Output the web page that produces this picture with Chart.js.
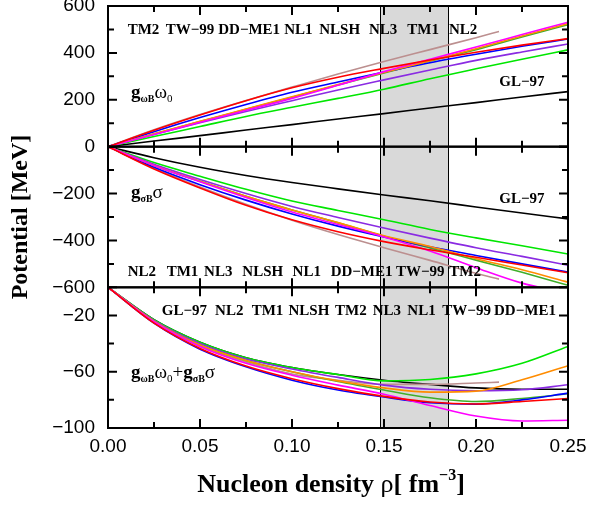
<!DOCTYPE html>
<html>
<head>
<meta charset="utf-8">
<script src="https://cdn.jsdelivr.net/npm/chart.js@4.4.1/dist/chart.umd.min.js"></script>
<style>
  html, body { margin: 0; padding: 0; background: #fff; }
  #wrap { width: 589px; height: 506px; position: relative; }
</style>
</head>
<body>
<div id="wrap"><canvas id="chart"></canvas></div>
<script>
// density grid (fm^-3)
const rho = [0, 0.025, 0.05, 0.075, 0.1, 0.125, 0.15, 0.175, 0.2, 0.225, 0.25];
const rhoShort = [0, 0.025, 0.05, 0.075, 0.1, 0.125, 0.15, 0.175, 0.2, 0.2125];

// upper panel: g_wB w0
const vecRed     = [0, 70, 135, 196, 251, 296, 334, 370, 403, 433, 461];
const vecMagenta = [0, 52, 104, 155, 206, 262, 320, 373, 425, 478, 531];
const vecOrange  = [0, 55, 108, 161, 213, 265, 316, 367, 418, 472, 525];
const vecBlue    = [0, 64, 124, 180, 232, 276, 318, 358, 394, 428, 459];
const vecGreen2  = [0, 54, 107, 159, 211, 263, 314, 365, 414, 468, 520];
const vecPurple  = [0, 52, 102, 150, 196, 242, 285, 327, 368, 404, 438];
const vecBrown   = [0, 72, 137, 197, 254, 310, 363, 414, 465, 491];
const vecGreen   = [0, 43, 86, 129, 168, 206, 245, 290, 332, 373, 413];
const vecBlack   = [0, 24, 47, 71, 94, 118, 141, 165, 188, 212, 235];

// middle panel: g_sB sigma
const scaRed     = [0, -95, -176, -250, -312, -363, -405, -440, -472, -505, -538];
const scaMagenta = [0, -80, -150, -217, -279, -332, -385, -445, -516, -582, -626];
const scaOrange  = [0, -80, -148, -212, -270, -324, -380, -426, -478, -525, -578];
const scaBlue    = [0, -88, -162, -228, -287, -339, -385, -427, -464, -500, -535];
const scaGreen2  = [0, -80, -148, -212, -270, -325, -382, -432, -484, -536, -591];
const scaPurple  = [0, -75, -140, -200, -255, -302, -347, -390, -431, -468, -506];
const scaBrown   = [0, -92, -172, -246, -314, -375, -431, -485, -540, -565];
const scaGreen   = [0, -68, -126, -182, -232, -272, -312, -353, -389, -423, -458];
const scaBlack   = [0, -47, -88, -123, -153, -180, -206, -231, -257, -283, -308];

// lower panel: sum
const sumRed     = [0, -25.5, -43.5, -56, -65, -72, -77.5, -81.5, -82.9, -81.2, -79];
const sumMagenta = [0, -24.5, -42, -54, -62.5, -69.5, -76, -84, -91.5, -95, -94.5];
const sumOrange  = [0, -24, -41, -52, -60, -66.5, -71.5, -74.5, -73.8, -65.7, -55.7];
const sumBlue    = [0, -25.5, -44, -56.5, -66, -73, -78, -82, -83, -80, -75.2];
const sumGreen2  = [0, -24, -41, -52, -60, -67, -73, -78.5, -81.2, -79, -75.7];
const sumPurple  = [0, -23.5, -40, -51, -58, -64, -69.5, -72.5, -73.5, -72.8, -69.3];
const sumBrown   = [0, -24.5, -42, -53, -61.7, -66, -69, -69, -68, -67.4];
const sumGreen   = [0, -23, -39, -50, -57, -62, -66.5, -65.5, -61.5, -54, -42];
const sumBlack   = [0, -23, -39, -50, -57, -62, -66, -69, -71.5, -72.4, -72.4];

// saturation density band
const band = [0.148, 0.185];

// ticks
const xMajor = [0, 0.05, 0.1, 0.15, 0.2, 0.25];
const xMinor = [0.025, 0.075, 0.125, 0.175, 0.225];
const topMajor = [0, 200, 400, 600], topMinor = [100, 300, 500];
const midMajor = [-600, -400, -200, 0], midMinor = [-500, -300, -100];
const botMajor = [-100, -60, -20], botMinor = [-80, -40];
const topShown = [0, 200, 400, 600];
const midShown = [-200, -400, -600];
const botShown = [-20, -60, -100];

// model name rows
const topNames = ['TM2', 'TW\u221299', 'DD\u2212ME1', 'NL1', 'NLSH', 'NL3', 'TM1', 'NL2'];
const topNameX = [0.0107, 0.0314, 0.0599, 0.0958, 0.1148, 0.1418, 0.1627, 0.1853];
const midNames = ['NL2', 'TM1', 'NL3', 'NLSH', 'NL1', 'DD\u2212ME1', 'TW\u221299', 'TM2'];
const midNameX = [0.0107, 0.0319, 0.0522, 0.073, 0.1003, 0.121, 0.1565, 0.1855];
const botNames = ['GL\u221297', 'NL2', 'TM1', 'NLSH', 'TM2', 'NL3', 'NL1', 'TW\u221299', 'DD\u2212ME1'];
const botNameX = [0.0292, 0.0582, 0.0781, 0.0981, 0.1234, 0.1439, 0.1627, 0.1817, 0.2098];

const SERIF = '"Liberation Serif", "Times New Roman", serif';
const SANS = '"Liberation Sans", Arial, sans-serif';

const colors = {
    red: '#ff0000', magenta: '#ff00ff', orange: '#ff8c00', blue: '#0000ff',
    green2: '#3fae2a', purple: '#8a2be2', brown: '#bc8f8f', green: '#00e600', black: '#000000'
};

const panels = [
    { axis: 'yTop', data: { red: vecRed, magenta: vecMagenta, orange: vecOrange, blue: vecBlue, green2: vecGreen2, purple: vecPurple, brown: vecBrown, green: vecGreen, black: vecBlack } },
    { axis: 'yMid', data: { red: scaRed, magenta: scaMagenta, orange: scaOrange, blue: scaBlue, green2: scaGreen2, purple: scaPurple, brown: scaBrown, green: scaGreen, black: scaBlack } },
    { axis: 'yBot', data: { red: sumRed, magenta: sumMagenta, orange: sumOrange, blue: sumBlue, green2: sumGreen2, purple: sumPurple, brown: sumBrown, green: sumGreen, black: sumBlack } }
];

// first dataset ends up on top
const drawOrder = ['red', 'magenta', 'orange', 'blue', 'green2', 'purple', 'brown', 'green', 'black'];
const datasets = [];
drawOrder.forEach(name => {
    panels.forEach(p => {
        const ys = p.data[name];
        const xs = name === 'brown' ? rhoShort : rho;
        datasets.push({
            label: name + ' ' + p.axis,
            data: ys.map((v, i) => ({ x: xs[i], y: v })),
            yAxisID: p.axis,
            borderColor: colors[name],
            borderWidth: 1.6,
            pointRadius: 0,
            fill: false,
            cubicInterpolationMode: 'monotone'
        });
    });
});

const fmt = v => v < 0 ? '\u2212' + Math.abs(v) : String(v);

function yAxis(min, max, step, shown, title) {
    return {
        type: 'linear', position: 'left', stack: 'panels', stackWeight: 1,
        min: min, max: max,
        grid: { display: false, drawTicks: false },
        border: { display: false },
        ticks: {
            stepSize: step, autoSkip: false, padding: 13, color: '#000',
            font: { family: SANS, size: 19 },
            callback: v => shown.includes(v) ? fmt(v) : null
        },
        title: title ? {
            display: true, text: title, color: '#000',
            font: { family: SERIF, size: 24, weight: 'bold' },
            padding: { top: 6, bottom: 0 }
        } : { display: false },
        afterFit: s => { s.width = 108; s.paddingTop = 0; s.paddingBottom = 0; }
    };
}

function drawRich(ctx, parts, x, y) {
    let cx = x;
    parts.forEach(p => {
        ctx.font = p.font;
        ctx.fillText(p.text, cx, y + (p.dy || 0));
        cx += ctx.measureText(p.text).width;
    });
}

function richWidth(ctx, parts) {
    let w = 0;
    parts.forEach(p => { ctx.font = p.font; w += ctx.measureText(p.text).width; });
    return w;
}

const big = 'bold 19px ' + SERIF, bigReg = '19px ' + SERIF;
const subB = 'bold 10px ' + SERIF, subR = '11px ' + SERIF;
const annVec = [
    { text: 'g', font: big }, { text: '\u03c9B', font: subB, dy: 3.5 },
    { text: '\u03c9', font: bigReg }, { text: '0', font: subR, dy: 3.5 }
];
const annSca = [
    { text: 'g', font: big }, { text: '\u03c3B', font: subB, dy: 3.5 },
    { text: '\u03c3', font: bigReg }
];
const annSum = annVec.concat([{ text: '+', font: bigReg }], annSca);
const xTitle = [
    { text: 'Nucleon density ', font: 'bold 26px ' + SERIF },
    { text: '\u03c1', font: '26px ' + SERIF },
    { text: '[ fm', font: 'bold 26px ' + SERIF },
    { text: '\u22123', font: 'bold 16px ' + SERIF, dy: -12 },
    { text: ']', font: 'bold 26px ' + SERIF }
];

const decor = {
    id: 'decor',
    beforeDatasetsDraw(chart) {
        const { ctx, chartArea: a } = chart;
        const x = chart.scales.x;
        const x0 = x.getPixelForValue(band[0]), x1 = x.getPixelForValue(band[1]);
        ctx.save();
        ctx.fillStyle = '#d9d9d9';
        ctx.fillRect(x0, a.top, x1 - x0, a.bottom - a.top);
        ctx.strokeStyle = '#000';
        ctx.lineWidth = 1;
        ctx.beginPath();
        ctx.moveTo(Math.round(x0) + 0.5, a.top); ctx.lineTo(Math.round(x0) + 0.5, a.bottom);
        ctx.moveTo(Math.round(x1) + 0.5, a.top); ctx.lineTo(Math.round(x1) + 0.5, a.bottom);
        ctx.stroke();
        ctx.restore();
    },
    // keep each curve inside its own panel
    beforeDatasetDraw(chart, args) {
        const s = chart.scales[args.meta.yAxisID];
        const a = chart.chartArea;
        chart.ctx.save();
        chart.ctx.beginPath();
        chart.ctx.rect(a.left, s.top, a.right - a.left, s.bottom - s.top);
        chart.ctx.clip();
    },
    afterDatasetDraw(chart) {
        chart.ctx.restore();
    },
    afterDatasetsDraw(chart) {
        const { ctx, chartArea: a } = chart;
        const x = chart.scales.x;
        const ticks = { yTop: [topMajor, topMinor], yMid: [midMajor, midMinor], yBot: [botMajor, botMinor] };
        ctx.save();
        ctx.strokeStyle = '#000';
        ctx.lineWidth = 2;
        Object.keys(ticks).forEach(id => {
            const s = chart.scales[id];
            ctx.strokeRect(a.left, s.top, a.right - a.left, s.bottom - s.top);
            ctx.beginPath();
            [[ticks[id][0], 9], [ticks[id][1], 6]].forEach(([vals, len]) => {
                vals.forEach(v => {
                    const py = s.getPixelForValue(v);
                    ctx.moveTo(a.left, py); ctx.lineTo(a.left + len, py);
                    ctx.moveTo(a.right, py); ctx.lineTo(a.right - len, py);
                });
            });
            [[xMajor, 9], [xMinor, 6]].forEach(([vals, len]) => {
                vals.forEach(v => {
                    const px = x.getPixelForValue(v);
                    ctx.moveTo(px, s.top); ctx.lineTo(px, s.top + len);
                    ctx.moveTo(px, s.bottom); ctx.lineTo(px, s.bottom - len);
                });
            });
            ctx.stroke();
        });

        // model names
        ctx.fillStyle = '#000';
        ctx.font = 'bold 15px ' + SERIF;
        ctx.textBaseline = 'middle';
        ctx.textAlign = 'left';
        const rows = [
            ['yTop', topNames, topNameX, 498],
            ['yMid', midNames, midNameX, -536],
            ['yBot', botNames, botNameX, -16.9]
        ];
        rows.forEach(([id, names, xs, yv]) => {
            const py = chart.scales[id].getPixelForValue(yv);
            names.forEach((n, i) => ctx.fillText(n, x.getPixelForValue(xs[i]), py));
        });
        ctx.fillText('GL\u221297', x.getPixelForValue(0.2127), chart.scales.yTop.getPixelForValue(274));
        ctx.fillText('GL\u221297', x.getPixelForValue(0.2127), chart.scales.yMid.getPixelForValue(-223));

        // panel annotations
        ctx.textBaseline = 'alphabetic';
        drawRich(ctx, annVec, x.getPixelForValue(0.0125), chart.scales.yTop.getPixelForValue(206));
        drawRich(ctx, annSca, x.getPixelForValue(0.0125), chart.scales.yMid.getPixelForValue(-219));
        drawRich(ctx, annSum, x.getPixelForValue(0.0125), chart.scales.yBot.getPixelForValue(-64.6));

        // x axis title
        const w = richWidth(ctx, xTitle);
        drawRich(ctx, xTitle, (a.left + a.right) / 2 - w / 2 - 7, 492);
        ctx.restore();
    }
};

new Chart(document.getElementById('chart'), {
    type: 'line',
    data: { datasets: datasets },
    options: {
        responsive: true,
        maintainAspectRatio: false,
        animation: false,
        events: [],
        layout: { padding: { top: 6, right: 21, left: 0, bottom: 0 } },
        plugins: { legend: { display: false }, tooltip: { enabled: false } },
        scales: {
            x: {
                type: 'linear', position: 'bottom', min: 0, max: 0.25,
                grid: { display: false, drawTicks: false },
                border: { display: false },
                ticks: {
                    stepSize: 0.05, autoSkip: false, maxRotation: 0, padding: 7, color: '#000',
                    font: { family: SANS, size: 19 },
                    callback: v => v.toFixed(2)
                },
                afterFit: s => { s.height = 78; s.paddingLeft = 0; s.paddingRight = 0; }
            },
            // stacked axes are laid out bottom-up in definition order
            yBot: yAxis(-100, 0, 20, botShown),
            yMid: yAxis(-600, 0, 100, midShown, 'Potential [MeV]'),
            yTop: yAxis(0, 600, 100, topShown)
        }
    },
    plugins: [decor]
});
</script>
</body>
</html>
